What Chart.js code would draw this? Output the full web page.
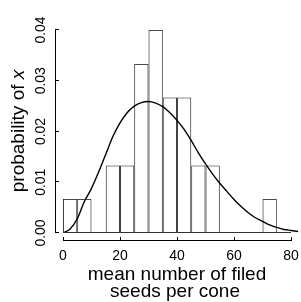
<!DOCTYPE html>
<html>
<head>
<meta charset="utf-8">
<script src="https://cdn.jsdelivr.net/npm/chart.js@4.4.1/dist/chart.umd.min.js"></script>
<style>
  body { margin: 0; background: #fff; }
</style>
</head>
<body>
<canvas id="myChart" width="301" height="302"></canvas>
<script>
// histogram bins (left edges, width 5) and their densities
const binStart = [0, 5, 10, 15, 20, 25, 30, 35, 40, 45, 50, 55, 60, 65, 70, 75];
const binWidth = 5;
const density = [0.0067, 0.0067, 0, 0.0133, 0.0133, 0.0333, 0.04, 0.0267,
                 0.0267, 0.0133, 0.0133, 0, 0, 0, 0.0067, 0];

// fitted curve
const curveX = [0, 2.5, 5, 7.5, 10, 12.5, 15, 17.5, 20, 22.5, 25, 27.5, 30, 32.5, 35, 37.5,
                40, 42.5, 45, 47.5, 50, 52.5, 55, 57.5, 60, 62.5, 65, 67.5, 70, 72.5, 75,
                77.5, 80, 82.5];
const curveY = [0, 0.0008, 0.0028, 0.0062, 0.0088, 0.0120, 0.0155, 0.0190, 0.0217, 0.0237,
                0.0250, 0.0257, 0.0259, 0.0256, 0.0249, 0.0237, 0.0222, 0.0204, 0.0182,
                0.0158, 0.0136, 0.0116, 0.0098, 0.0082, 0.0066, 0.0052, 0.0040, 0.0030,
                0.0023, 0.0016, 0.0011, 0.0007, 0.0005, 0.0003];

const xTicks = [0, 20, 40, 60, 80];
const xTickLabels = ['0', '20', '40', '60', '80'];
const yTicks = [0, 0.01, 0.02, 0.03, 0.04];
const yTickLabels = ['0.00', '0.01', '0.02', '0.03', '0.04'];

const xTitle = ['mean number of filed', 'seeds per cone'];
const yTitle = 'probability of ';
const yTitleItalic = 'x';

const FONT = '"Liberation Sans", Arial, sans-serif';

const barData = binStart.map((b, i) => ({ x: b + binWidth / 2, y: density[i] }));
const curveData = curveX.map((x, i) => ({ x: x, y: curveY[i] }));

// R-style axes: detached from the plot, short inward ticks
const rAxes = {
  id: 'rAxes',
  afterDraw(chart) {
    const ctx = chart.ctx;
    const xs = chart.scales.x, ys = chart.scales.y;
    const area = chart.chartArea;
    const axX = area.left - 8;
    const axY = ys.getPixelForValue(0) + 7;
    ctx.save();
    ctx.lineWidth = 1;

    // baseline under the bars
    ctx.strokeStyle = '#333';
    ctx.beginPath();
    const by = Math.round(ys.getPixelForValue(0)) - 0.5;
    ctx.moveTo(xs.getPixelForValue(binStart[0]), by);
    ctx.lineTo(xs.getPixelForValue(binStart[binStart.length - 1] + binWidth), by);
    ctx.stroke();

    ctx.strokeStyle = '#000';
    // y axis
    ctx.beginPath();
    ctx.moveTo(axX + 0.5, ys.getPixelForValue(yTicks[0]));
    ctx.lineTo(axX + 0.5, ys.getPixelForValue(yTicks[yTicks.length - 1]));
    yTicks.forEach(t => {
      const py = Math.round(ys.getPixelForValue(t)) - 0.5;
      ctx.moveTo(axX, py);
      ctx.lineTo(axX + 4, py);
    });
    // x axis
    ctx.moveTo(xs.getPixelForValue(xTicks[0]), axY + 0.5);
    ctx.lineTo(xs.getPixelForValue(xTicks[xTicks.length - 1]), axY + 0.5);
    xTicks.forEach(t => {
      const px = Math.round(xs.getPixelForValue(t)) + 0.5;
      ctx.moveTo(px, axY + 1);
      ctx.lineTo(px, axY - 3);
    });
    ctx.stroke();

    ctx.fillStyle = '#000';
    ctx.font = '14px ' + FONT;
    // x tick labels
    ctx.textAlign = 'center';
    ctx.textBaseline = 'alphabetic';
    xTicks.forEach((t, i) => {
      ctx.fillText(xTickLabels[i], xs.getPixelForValue(t), axY + 20);
    });
    // y tick labels, parallel to the axis
    yTicks.forEach((t, i) => {
      ctx.save();
      ctx.translate(axX - 10, ys.getPixelForValue(t));
      ctx.rotate(-Math.PI / 2);
      ctx.fillText(yTickLabels[i], 0, 0);
      ctx.restore();
    });

    // x title (two lines)
    const midX = (axX + chart.width) / 2 - 1;
    ctx.font = '19px ' + FONT;
    ctx.fillText(xTitle[0], midX, 280);
    ctx.fillText(xTitle[1], midX - 2, 297);

    // y title with italic x
    const plain = '19px ' + FONT;
    const ital = 'italic 19px ' + FONT;
    ctx.font = plain;
    const w1 = ctx.measureText(yTitle).width;
    ctx.font = ital;
    const w2 = ctx.measureText(yTitleItalic).width;
    const midY = (axY + area.top - 8) / 2;
    ctx.save();
    ctx.translate(23.5, midY);
    ctx.rotate(-Math.PI / 2);
    ctx.textAlign = 'left';
    ctx.font = plain;
    ctx.fillText(yTitle, -(w1 + w2) / 2, 0);
    ctx.font = ital;
    ctx.fillText(yTitleItalic, -(w1 + w2) / 2 + w1, 0);
    ctx.restore();

    ctx.restore();
  }
};

new Chart(document.getElementById('myChart'), {
  type: 'bar',
  data: {
    datasets: [
      {
        type: 'line',
        data: curveData,
        borderColor: '#000',
        borderWidth: 1.4,
        pointRadius: 0,
        cubicInterpolationMode: 'monotone',
        fill: false,
        order: 0
      },
      {
        type: 'bar',
        data: barData,
        backgroundColor: 'rgba(255,255,255,0)',
        borderColor: '#111',
        borderWidth: 0.8,
        borderSkipped: false,
        inflateAmount: 0,
        barPercentage: 1,
        categoryPercentage: 1,
        order: 1
      }
    ]
  },
  options: {
    responsive: false,
    animation: false,
    layout: { padding: { left: 63, right: 0, top: 30, bottom: 69 } },
    plugins: { legend: { display: false }, tooltip: { enabled: false } },
    scales: {
      x: { type: 'linear', min: 0, max: 83.5, offset: false, display: false },
      y: { min: 0, max: 0.04, display: false }
    }
  },
  plugins: [rAxes]
});
</script>
</body>
</html>
